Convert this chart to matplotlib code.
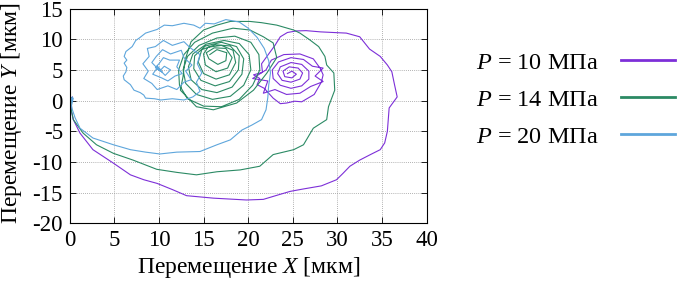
import numpy as np
import matplotlib
matplotlib.use('Agg')
import matplotlib.pyplot as plt

# trajectories, (x, y) in мкм
p10_xy = [(0, 0), (0.3, 0.6), (0.1, -0.4), (0.2, -1.8), (0.4, -3.1), (1.15, -5.3), (2.6, -8.0), (4.9, -10.2),
          (6.8, -12.1), (8.3, -12.9), (9.8, -13.5), (11.5, -14.5), (13.1, -15.5), (16.1, -15.9), (19.8, -16.2),
          (21.7, -16.1), (23.3, -15.4), (24.7, -14.8), (26.2, -14.4), (28.2, -13.9), (29.9, -12.9), (30.6, -11.9),
          (31.4, -10.7), (32.5, -9.7), (33.7, -8.8), (34.8, -8.0), (35.3, -6.9), (35.6, -5.0), (35.7, -3.1),
          (35.8, -1.2), (36.7, 0.6), (36.4, 2.6), (36.1, 4.7), (35.6, 5.8), (34.8, 7.2), (33.6, 8.4), (32.5, 10.4),
          (31.0, 11.0), (29.5, 11.1), (28.1, 11.2), (26.5, 11.4), (25.4, 11.35), (24.4, 11.1), (23.6, 10.4),
          (23.0, 9.0), (22.3, 7.6),
          (21.5, 6.0), (21.6, 4.6), (20.6, 4.2), (21.3, 3.6), (21.0, 2.6), (21.8, 2.0), (22.8, 0.4), (23.6, -0.5),
          (24.3, -0.4), (25.2, -0.1), (26.0, -0.2), (27.4, 1.0), (28.2, 3.0), (28.4, 4.2), (28.1, 5.2), (27.3, 6.8),
          (25.8, 7.6), (24.0, 7.5), (22.6, 6.6), (22.0, 5.0), (20.5, 3.6), (22.2, 3.2), (21.7, 1.2), (23.0, 1.8),
          (24.3, 1.0), (25.8, 1.2), (27.0, 2.3), (28.4, 3.1), (27.5, 4.0), (28.4, 5.3), (27.2, 5.6), (26.2, 6.7),
          (24.8, 7.0), (23.4, 6.3), (22.7, 5.0), (22.8, 3.6), (23.6, 2.5), (24.8, 2.0), (26.0, 2.4), (26.8, 3.5),
          (26.8, 4.8), (26.0, 5.9), (24.8, 6.2), (23.6, 5.5), (23.3, 4.4), (23.8, 3.3), (24.8, 3.0), (25.8, 3.5),
          (26.1, 4.5), (25.6, 5.3), (24.6, 5.5), (23.9, 4.8), (24.1, 3.9), (24.9, 3.7), (25.4, 4.3), (24.9, 4.8),
          (24.4, 4.4)]

p14_xy = [(0, 0), (0.2, 0.5), (0.1, -1.0), (0.4, -3.1), (1.5, -5.3), (3.0, -7.2), (4.9, -8.6), (7.1, -9.7),
          (9.75, -11.2), (12.0, -11.7), (14.2, -12.1), (16.5, -11.6), (19.1, -11.3), (21.3, -10.7), (22.8, -8.8),
          (25.1, -8.0), (26.2, -7.2), (27.3, -4.5), (28.8, -3.1), (29.0, -1.0), (29.7, 1.7), (29.6, 4.5),
          (28.8, 5.8), (28.6, 7.2), (27.9, 8.8), (26.9, 9.9), (25.8, 11.0), (25.1, 11.5), (23.2, 12.3),
          (21.5, 12.7), (20.2, 12.9), (18.0, 12.9), (16.5, 12.3), (15.0, 11.5), (13.6, 9.6), (12.9, 6.5),
          (12.7, 3.9), (12.4, 1.7), (14.2, -1.0), (16.1, -1.5), (18.7, -0.4), (20.6, 1.7), (22.1, 4.5),
          (23.2, 7.0), (22.8, 9.4), (21.7, 10.4), (20.2, 11.5), (18.3, 11.8),
          (16.0, 11.0), (14.0, 9.5), (12.8, 7.5), (12.2, 5.0), (12.3, 2.5), (13.2, 0.3), (15.0, -0.9), (17.0, -1.0),
          (19.0, 0.2), (20.5, 2.5), (21.3, 5.0), (21.2, 7.5), (20.3, 9.5), (18.5, 10.5),
          (16.5, 10.2), (14.5, 9.0), (13.2, 7.2), (12.7, 5.0), (13.0, 2.8), (14.2, 1.0), (16.0, 0.2), (18.0, 0.7),
          (19.5, 2.5), (20.3, 5.0), (20.1, 7.5), (19.0, 9.3), (17.3, 9.8),
          (15.3, 9.2), (13.8, 7.6), (13.3, 5.5), (13.6, 3.4), (14.8, 1.8), (16.5, 1.3), (18.2, 2.2), (19.3, 4.3),
          (19.5, 6.8), (18.7, 8.8), (17.0, 9.5),
          (15.2, 8.9), (14.0, 7.3), (13.9, 5.2), (14.7, 3.3), (16.3, 2.4), (17.9, 3.1), (18.9, 5.0), (19.0, 7.3),
          (18.0, 8.9), (16.3, 9.1),
          (14.8, 8.3), (14.4, 6.3), (15.0, 4.4), (16.4, 3.5), (17.9, 4.2), (18.6, 6.2), (18.3, 8.2), (17.0, 9.0),
          (15.5, 8.7),
          (15.0, 7.6), (15.2, 5.8), (16.4, 4.7), (17.7, 5.3), (18.2, 7.0), (17.5, 8.5), (16.2, 8.6), (15.3, 7.8),
          (15.6, 6.8), (16.6, 5.9), (17.5, 6.5), (17.6, 7.8), (16.5, 8.3), (15.7, 7.5)]

p20_xy = [(0, 0), (0.3, 0.6), (0.1, -0.3), (0.4, 0.4), (0.2, -0.8), (0.3, -1.5), (0.6, -2.8), (1.15, -4.5),
          (2.6, -6.1), (4.9, -7.2), (6.8, -8.0), (8.5, -8.4), (10.1, -8.7), (12.0, -8.4), (14.6, -8.3),
          (16.5, -7.2), (18.0, -6.4), (19.3, -4.8), (20.4, -4.0), (21.5, -3.1), (22.0, -1.5), (22.2, 0.5),
          (22.3, 2.5), (22.5, 4.5), (22.3, 6.5), (21.8, 8.5), (21.0, 10.3), (20.0, 11.8), (19.0, 12.8),
          (17.5, 13.2), (16.2, 12.5), (15.2, 12.6), (14.6, 11.8), (13.9, 12.3), (12.8, 12.6), (11.5, 12.2),
          (10.6, 12.3), (9.8, 11.6), (8.5, 11.0), (7.8, 10.2), (7.4, 9.8), (7.0, 8.8), (6.3, 8.0), (6.1, 7.2),
          (6.4, 6.6), (6.1, 6.1), (6.4, 5.4), (6.3, 4.7), (6.0, 4.0), (6.1, 3.4), (6.8, 2.6), (7.2, 1.7),
          (7.9, 1.3), (8.3, 0.9), (8.5, 0.4), (9.5, 0.3), (10.2, 0.1), (11.5, 0.3), (12.8, 0.1), (13.8, 0.6),
          (14.6, 1.5),
          (14.2, 3.0), (14.8, 4.5), (14.3, 6.0), (14.6, 7.5), (13.5, 8.6), (12.8, 9.6), (11.5, 9.0), (10.5, 9.8),
          (9.6, 8.8), (8.7, 8.5), (8.9, 7.2), (8.2, 6.0), (8.8, 4.8), (8.3, 3.6), (9.2, 2.8), (9.8, 1.8),
          (11.0, 2.4), (12.0, 1.8), (12.8, 3.0), (13.6, 3.4), (13.0, 4.8), (13.7, 5.8), (12.8, 7.0), (12.5, 8.2),
          (11.3, 7.6), (10.4, 8.3), (9.7, 7.2), (9.2, 6.2), (9.8, 5.3), (9.3, 4.3), (10.3, 3.7), (11.0, 3.2),
          (11.8, 4.0), (12.6, 4.4), (12.0, 5.5), (12.3, 6.6), (11.2, 6.6), (10.5, 7.0), (10.0, 6.0), (9.6, 5.4),
          (10.3, 4.7), (10.7, 4.1), (11.3, 5.0), (10.6, 5.6), (10.2, 5.0), (9.8, 5.6), (10.4, 4.6), (9.7, 5.2)]

series_labels = ['$P$ = 10 МПа', '$P$ = 14 МПа', '$P$ = 20 МПа']
series_colors = ['#7d2fd8', '#2b8a64', '#5ea6dc']

x_ticks = list(range(0, 41, 5))
y_ticks = list(range(-20, 16, 5))

plt.rcParams['font.family'] = ['Liberation Serif', 'DejaVu Serif']
plt.rcParams['mathtext.fontset'] = 'custom'
plt.rcParams['mathtext.rm'] = 'Liberation Serif'
plt.rcParams['mathtext.it'] = 'Liberation Serif:italic'
plt.rcParams['axes.unicode_minus'] = False

fig = plt.figure(figsize=(6.87, 2.90), dpi=100)
ax = fig.add_axes([0.1015, 0.23, 0.5195, 0.7405])

for xy, lab, col in zip([p10_xy, p14_xy, p20_xy], series_labels, series_colors):
    arr = np.array(xy)
    ax.plot(arr[:, 0], arr[:, 1], color=col, lw=0.8, label=lab, solid_joinstyle='round')

ax.set_xlim(0, 40)
ax.set_ylim(-20, 15)
ax.set_xticks(x_ticks)
ax.set_yticks(y_ticks)
ax.grid(True, color='#999999', linestyle=(0, (1, 1.5)), linewidth=0.6)
ax.tick_params(direction='in', top=True, right=True, length=4, width=0.6, labelsize=16.5, pad=5)
for s in ax.spines.values():
    s.set_linewidth(0.8)

ax.set_xlabel('Перемещение $X$ [мкм]', fontsize=17, labelpad=3)
ax.set_ylabel('Перемещение $Y$ [мкм]', fontsize=17)
ax.yaxis.set_label_coords(-0.128, 0.515)

leg = ax.legend(loc='upper left', bbox_to_anchor=(0.693, 0.822), bbox_transform=fig.transFigure,
                frameon=False, markerfirst=False, fontsize=17.5, handlelength=2.25, handletextpad=0.9,
                labelspacing=0.62, borderpad=0, borderaxespad=0)
for ln in leg.get_lines():
    ln.set_linewidth(2.0)

fig.savefig('out.png', dpi=100)
